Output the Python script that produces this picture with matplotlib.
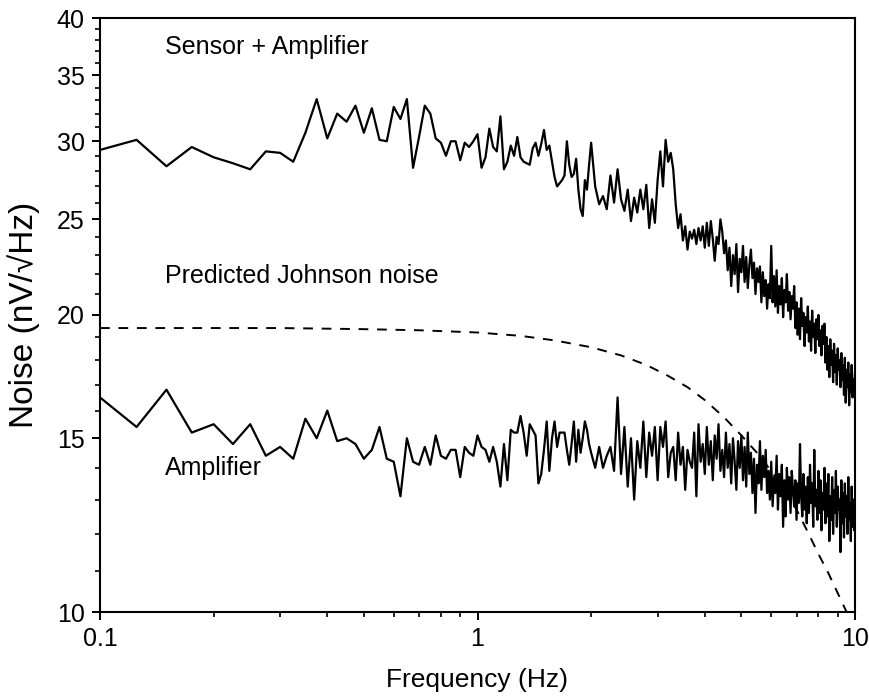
import numpy as np
import matplotlib
matplotlib.use("Agg")
import matplotlib.pyplot as plt
from matplotlib.ticker import FixedLocator, FixedFormatter, NullFormatter, LogLocator

plt.rcParams['font.family'] = ['Liberation Sans', 'DejaVu Sans']

# frequency grids (Hz): fine below 2 Hz, coarser in the dense band above
freq_lo = np.round(np.arange(0.1, 2.0001, 0.025), 3)
freq_hi = np.round(np.arange(2.05, 10.0001, 0.05), 2)

# Sensor + Amplifier noise (nV/rtHz)
sensor_lo = [
    29.4, 30.1, 28.3, 29.6, 28.9, 28.5, 28.1, 29.3, 29.2, 28.6,
    30.6, 33.1, 30.2, 32.0, 31.4, 32.6, 30.6, 32.4, 30.1, 30.0,
    32.5, 31.6, 33.1, 28.2, 30.3, 32.6, 32.0, 30.2, 29.9, 29.0,
    30.0, 30.0, 28.7, 29.9, 29.6, 30.0,
    30.5, 28.2, 28.9, 30.9, 29.6, 29.3, 31.8, 28.1, 28.6, 29.7,
    29.0, 30.3, 28.9, 28.6, 28.5, 28.4, 29.5, 29.9, 29.0, 29.8,
    30.8, 29.4, 29.7, 28.6, 27.6, 27.0, 27.2, 27.4, 27.7, 30.0,
    28.4, 27.6, 27.8, 28.8, 26.8, 25.6, 25.2, 27.4, 26.8, 28.4,
    29.9,
]
sensor_hi = [
    27.0, 25.9, 26.4, 25.6, 27.7, 26.0, 28.1, 26.2, 25.5, 26.8,
    24.9, 26.3, 25.4, 26.8, 25.6, 27.1, 24.5, 26.2, 24.8, 27.4,
    29.3, 27.0, 30.1, 28.6, 29.2, 28.1, 25.9, 24.5, 25.3, 23.8,
    24.6, 23.3, 24.3, 23.9, 24.4, 23.6, 24.5, 23.8, 24.6, 23.4,
    24.8, 23.5, 24.9, 23.9, 22.7, 24.0, 23.6, 25.0, 24.3, 23.1,
    23.8, 22.2, 23.4, 21.4, 23.0, 22.0, 23.6, 21.1, 22.8, 22.1,
    23.5, 21.6, 22.9, 21.3, 22.5, 23.3, 21.8, 22.6, 21.0, 22.3,
    21.6, 22.4, 20.6, 22.1, 20.9, 21.7, 20.3, 21.5, 20.8, 23.5,
    20.6, 21.9, 20.4, 22.2, 20.1, 21.4, 20.5, 21.8, 19.9, 21.2,
    20.6, 22.0, 20.2, 21.1, 19.8, 20.9, 20.3, 21.4, 19.4, 20.6,
    19.1, 20.3, 18.9, 20.8, 19.5, 20.1, 18.6, 19.9, 19.2, 20.4,
    18.8, 19.7, 18.4, 20.2, 19.0, 19.6, 18.3, 19.8, 18.9, 20.0,
    18.6, 19.3, 18.2, 19.5, 18.7, 19.6, 17.9, 19.0, 17.6, 18.6,
    17.3, 18.9, 17.8, 18.4, 17.1, 18.7, 17.5, 18.2, 17.0, 18.5,
    17.6, 18.0, 16.9, 18.3, 17.2, 17.8, 16.6, 18.1, 16.3, 17.6,
    16.9, 17.9, 16.2, 17.4, 16.7, 17.8, 16.5, 17.2, 16.8, 17.5,
]

# Amplifier noise (nV/rtHz)
amp_lo = [
    16.5, 15.4, 16.8, 15.2, 15.5, 14.8, 15.5, 14.4, 14.7, 14.3,
    15.7, 15.0, 16.0, 14.9, 15.0, 14.8, 14.3, 14.6, 15.4, 14.3,
    14.2, 13.1, 15.0, 14.2, 14.1, 14.7, 14.1, 15.1, 14.4, 14.3,
    14.6, 14.6, 13.7, 14.7, 14.5, 14.4,
    15.1, 14.7, 14.6, 14.2, 14.7, 14.2, 13.4, 14.8, 13.6, 15.3,
    15.2, 15.2, 15.8, 15.2, 14.4, 15.5, 15.3, 15.1, 13.5, 13.8,
    14.6, 15.6, 13.9, 15.0, 15.6, 14.7, 15.2, 15.2, 15.2, 14.6,
    14.1, 14.8, 15.6, 14.2, 15.3, 14.5, 15.0, 15.6, 15.3, 14.8,
    14.5,
]
amp_hi = [
    14.0, 14.7, 14.0, 14.4, 14.7, 13.9, 16.5, 13.8, 15.4, 13.4,
    15.0, 13.0, 14.9, 14.0, 15.6, 13.7, 15.2, 14.4, 15.4, 13.6,
    15.4, 14.7, 15.6, 13.7, 14.5, 14.7, 13.6, 15.2, 14.1, 14.7,
    13.3, 14.6, 14.2, 14.0, 15.2, 13.1, 15.5, 14.2, 14.8, 13.8,
    15.4, 14.1, 14.9, 13.6, 15.1, 14.3, 15.5, 13.9, 14.6, 13.7,
    15.2, 14.0, 14.8, 13.5, 15.0, 14.2, 13.3, 14.9, 14.0, 15.1,
    13.6, 14.7, 13.4, 15.2, 13.8, 14.5, 13.2, 14.3, 12.6, 14.1,
    13.5, 14.9, 13.3, 14.4, 13.7, 14.6, 13.2, 13.9, 13.0, 14.2,
    12.8, 13.7, 13.2, 14.4, 12.7, 13.8, 13.1, 14.1, 12.2, 13.6,
    12.5, 14.0, 13.0, 13.7, 12.6, 13.9, 13.3, 12.8, 13.6, 12.4,
    13.5, 12.9, 14.8, 13.1, 12.5, 13.8, 12.7, 13.4, 12.3, 13.7,
    12.6, 14.1, 12.9, 13.5, 12.2, 14.6, 12.8, 13.3, 12.4, 13.9,
    12.6, 13.6, 12.1, 13.2, 12.7, 14.0, 12.3, 13.5, 12.5, 13.8,
    11.8, 13.1, 12.4, 13.7, 12.0, 13.3, 12.6, 13.9, 12.2, 13.4,
    12.7, 13.0, 11.5, 13.6, 12.3, 13.2, 11.9, 13.5, 12.5, 13.1,
    12.0, 13.7, 12.4, 12.9, 11.8, 13.4, 12.2, 13.0, 12.1, 12.9,
]

# Predicted Johnson noise (dashed)
johnson_f = [0.1, 0.2, 0.3, 0.5, 0.7, 1.0, 1.3, 1.6, 2.0, 2.4, 2.8, 3.2, 3.6,
             4.0, 4.5, 5.0, 5.5, 6.0, 6.5, 7.0, 7.5, 8.0, 8.5, 9.0, 9.5]
johnson_v = [19.4, 19.4, 19.4, 19.35, 19.3, 19.2, 19.05, 18.85, 18.55, 18.2,
             17.8, 17.35, 16.9, 16.4, 15.75, 15.1, 14.5, 13.9, 13.3, 12.7,
             12.05, 11.45, 10.95, 10.45, 10.0]

freq = np.concatenate([freq_lo, freq_hi])
sensor = np.array(sensor_lo + sensor_hi)
amp = np.array(amp_lo + amp_hi)

fig = plt.figure(figsize=(8.69, 6.96), dpi=100)
ax = fig.add_axes([100 / 869, 84 / 696, 755 / 869, 594 / 696])

ax.plot(johnson_f, johnson_v, color='black', lw=1.4, linestyle=(0, (5, 4.5)), zorder=2)
ax.plot(freq, sensor, color='black', lw=1.6, zorder=3)
ax.plot(freq, amp, color='black', lw=1.6, zorder=3)

ax.set_xscale('log')
ax.set_yscale('log')
ax.set_xlim(0.1, 10)
ax.set_ylim(10, 40)

ax.xaxis.set_major_locator(FixedLocator([0.1, 1, 10]))
ax.xaxis.set_major_formatter(FixedFormatter(['0.1', '1', '10']))
ax.xaxis.set_minor_locator(LogLocator(base=10, subs=np.arange(2, 10)))
ax.xaxis.set_minor_formatter(NullFormatter())

yt = [10, 15, 20, 25, 30, 35, 40]
ax.yaxis.set_major_locator(FixedLocator(yt))
ax.yaxis.set_major_formatter(FixedFormatter([str(v) for v in yt]))
ax.yaxis.set_minor_locator(FixedLocator([v for v in range(11, 40) if v % 5 != 0]))
ax.yaxis.set_minor_formatter(NullFormatter())

ax.tick_params(which='major', direction='out', length=6, width=1.4, labelsize=18, pad=5)
ax.tick_params(which='minor', direction='out', length=3.5, width=1.2)
for s in ax.spines.values():
    s.set_linewidth(1.5)

ax.set_xlabel('Frequency (Hz)', fontsize=19, labelpad=12)
ax.set_ylabel('Noise (nV/\u221aHz)', fontsize=24, labelpad=12)

ax.text(0.086, 0.951, 'Sensor + Amplifier', transform=ax.transAxes, fontsize=18, va='center')
ax.text(0.086, 0.566, 'Predicted Johnson noise', transform=ax.transAxes, fontsize=18, va='center')
ax.text(0.086, 0.242, 'Amplifier', transform=ax.transAxes, fontsize=18, va='center')

fig.savefig('out.png', dpi=100)
